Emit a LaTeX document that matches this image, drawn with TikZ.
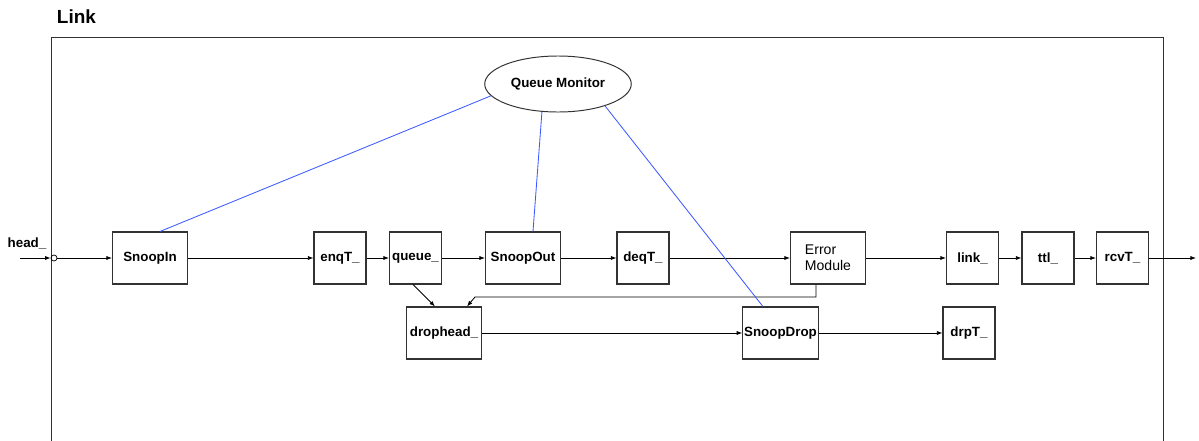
\documentclass[tikz,border=0pt]{standalone}
\usepackage{fontspec}
\setmainfont{Liberation Sans}
\usepackage{tikz}
\usetikzlibrary{arrows.meta,shapes.geometric}
\definecolor{monblue}{RGB}{60,90,255}
\definecolor{framegray}{RGB}{50,50,50}

\tikzset{
  blk/.style={draw=framegray, line width=0.75pt, minimum height=1.3cm,
    inner sep=1pt, font=\fontsize{9.5}{11}\selectfont\bfseries},
  wideblk/.style={blk, minimum width=1.875cm},
  smallblk/.style={blk, minimum width=1.3cm},
  flow/.style={draw=black, line width=0.6pt, -{Latex[length=4pt,width=3pt]}},
  monline/.style={draw=monblue, line width=0.6pt}
}

\begin{document}
\begin{tikzpicture}[x=0.025cm, y=-0.025cm]
            \useasboundingbox (0,0) rectangle (1199,441);

            % enclosing link frame
            \draw[framegray, line width=0.7pt] (51,441) -- (51,37) -- (1163,37) -- (1163,441);
            \node[anchor=west, font=\fontsize{13.5}{15}\selectfont\bfseries] (title) at (52,17) {Link};

            % upper row
            \node[wideblk] (snoopin) at (150,258) {SnoopIn};
            \node[smallblk] (enqt) at (340,258) {enqT\_};
            \node[smallblk] (queue) at (415.5,258) {queue\_};
            \node[wideblk] (snoopout) at (523,258) {SnoopOut};
            \node[smallblk] (deqt) at (643,258) {deqT\_};
            \node[wideblk, font=\fontsize{10}{11.5}\selectfont, align=left] (errmod) at (828,258) {Error\\Module};
            \node[smallblk] (linkb) at (972.5,258) {link\_};
            \node[smallblk] (ttl) at (1048,258) {ttl\_};
            \node[smallblk] (rcvt) at (1122.5,258) {rcvT\_};

            % lower row
            \node[wideblk] (drophead) at (444,333) {drophead\_};
            \node[wideblk] (snoopdrop) at (780.5,333) {SnoopDrop};
            \node[smallblk] (drpt) at (969,333) {drpT\_};

            % monitor
            \node[ellipse, draw=framegray, line width=0.7pt, minimum width=3.5cm, minimum height=1.4cm,
                  font=\fontsize{9.5}{11}\selectfont\bfseries] (qmon) at (558,84) {Queue Monitor};

            % entry and exit
            \node[anchor=south, font=\fontsize{9.5}{11}\selectfont\bfseries, inner sep=1pt] (headlbl) at (27,251) {head\_};
            \coordinate (headin) at (20,258);
            \node[circle, draw=black, line width=0.5pt, minimum size=0.15cm, inner sep=0pt] (port) at (54,258) {};
            \coordinate (exitpt) at (1196,258);

            \draw[flow] (headin) -- (port);
            \draw[flow] (port) -- (snoopin);
            \draw[flow] (snoopin) -- (enqt);
            \draw[flow] (enqt) -- (queue);
            \draw[flow] (queue) -- (snoopout);
            \draw[flow] (snoopout) -- (deqt);
            \draw[flow] (deqt) -- (errmod);
            \draw[flow] (errmod) -- (linkb);
            \draw[flow] (linkb) -- (ttl);
            \draw[flow] (ttl) -- (rcvt);
            \draw[flow] (rcvt) -- (exitpt);

            \draw[flow] ([xshift=-0.06cm]queue.south) -- ([xshift=-0.225cm]drophead.north);
            \coordinate (fbturn) at (475,297);
            \draw[flow] ([xshift=-0.3cm]errmod.south) |- (fbturn) -- ([xshift=0.575cm]drophead.north);
            \draw[flow] (drophead) -- (snoopdrop);
            \draw[flow] (snoopdrop) -- (drpt);

            % monitor taps
            \draw[monline] ([xshift=0.25cm]snoopin.north) -- (qmon.190);
            \draw[monline] ([xshift=0.25cm]snoopout.north) -- (qmon.240);
            \draw[monline] ([xshift=-0.44cm]snoopdrop.north) -- (qmon.335);
        \end{tikzpicture}
\end{document}
